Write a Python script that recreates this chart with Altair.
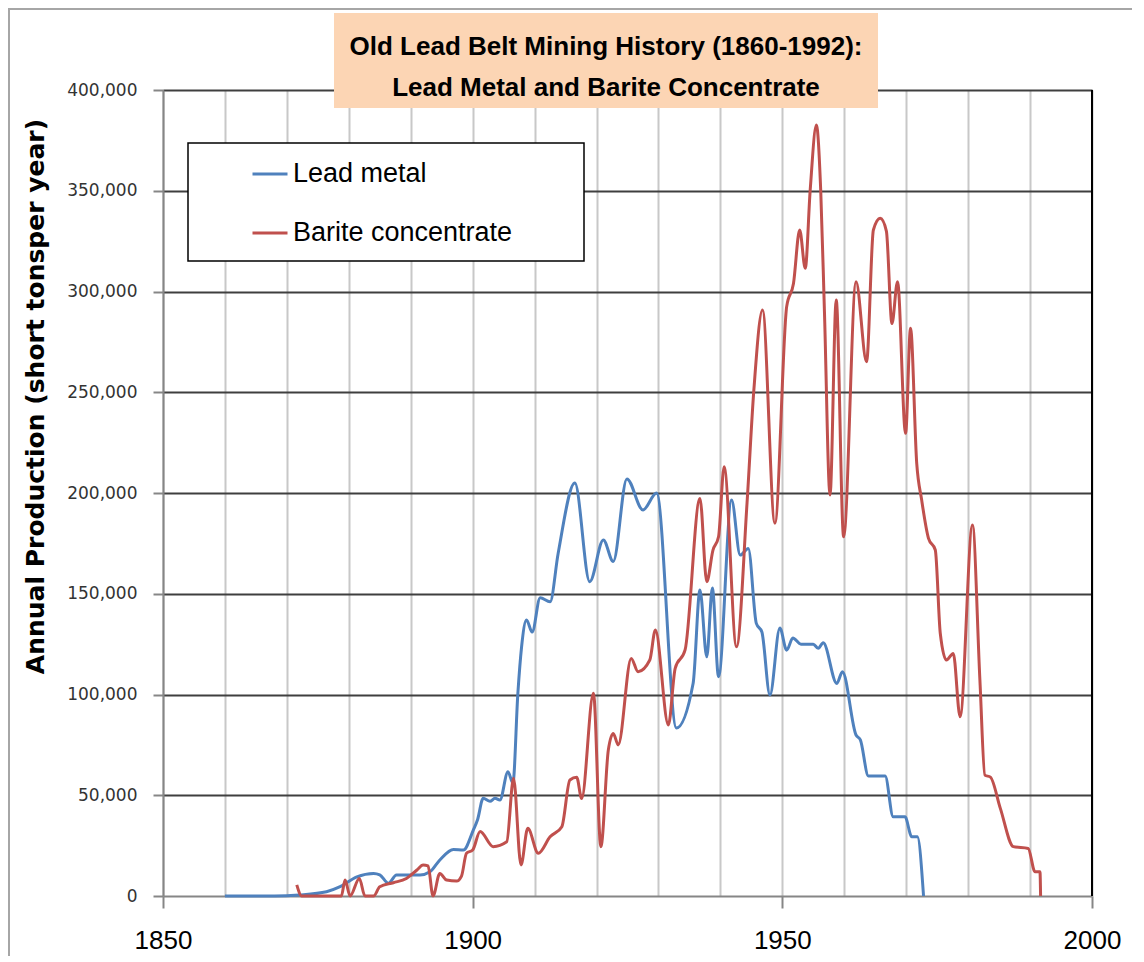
import altair as alt
import pandas as pd

# ---------------- data ----------------
series_names = ["Lead metal", "Barite concentrate"]
series_colors = ["#4F81BD", "#C0504D"]

lead_years = [1860, 1868, 1872, 1876.4, 1878.6, 1881.3, 1884, 1885, 1886.4, 1887.7,
              1891.5, 1893.1, 1894.7, 1896.9, 1898.5, 1900.1, 1900.8, 1901.7, 1902.8, 1903.6,
              1904.4, 1905.7, 1906.5, 1907.3, 1907.9, 1908.7, 1909.6, 1910.9, 1912.5, 1913.8,
              1916.5, 1918.9, 1921.1, 1922.7, 1924.9, 1927.5, 1929.7, 1932.9, 1935.6, 1936.7,
              1937.8, 1938.7, 1939.7, 1941.8, 1943.2, 1944.5, 1945.8, 1946.7, 1948.0, 1949.6,
              1950.7, 1951.7, 1953.0, 1955.0, 1955.8, 1956.6, 1958.8, 1959.7, 1961.9, 1962.6,
              1963.9, 1966.6, 1967.9, 1969.8, 1970.9, 1971.8, 1972.8]
lead_values = [0, 0, 500, 2100, 4600, 9500, 11200, 10500, 6300, 10400,
               10400, 12000, 17900, 23100, 22800, 32700, 38000, 48500, 47000, 48500,
               47600, 61700, 56000, 100700, 123700, 137000, 131000, 148000, 146000, 170000,
               205000, 156000, 176700, 166000, 207000, 191600, 200000, 83400, 105600, 151800,
               118700, 152800, 108800, 196500, 169200, 172500, 135300, 131000, 99700, 133000,
               122000, 128000, 125000, 125000, 122900, 125700, 105500, 111300, 79900, 77500,
               59500, 59500, 39300, 39300, 29400, 29400, 0]

barite_years = [1871.6, 1872.4, 1878.8, 1879.4, 1880.2, 1881.7, 1882.6, 1884, 1885, 1887.2,
                1889.3, 1891, 1892, 1892.8, 1893.6, 1894.7, 1895.8, 1897.4, 1898.2, 1899,
                1900, 1901.2, 1903.3, 1905.5, 1906.6, 1907.8, 1908.9, 1910.6, 1912.5, 1914.4,
                1915.7, 1916.8, 1917.6, 1919.5, 1920.7, 1921.9, 1922.7, 1923.5, 1925.6, 1926.7,
                1928.6, 1929.5, 1931.6, 1932.7, 1934.3, 1936.7, 1937.8, 1938.8, 1939.7, 1940.6,
                1942.6, 1944.3, 1945.4, 1946.8, 1948.8, 1950.7, 1951.8, 1952.8, 1953.7, 1954.5,
                1955.5, 1956.2, 1956.8, 1957.7, 1958.7, 1959.9, 1961.9, 1963.6, 1964.7, 1965.8,
                1966.8, 1967.7, 1968.6, 1969.9, 1970.7, 1971.7, 1972.5, 1973.6, 1974.7, 1975.5,
                1976.5, 1977.6, 1978.7, 1980.7, 1981.9, 1982.7, 1983.6, 1985.2, 1987.3, 1989.7,
                1990.8, 1991.6, 1991.7]
barite_values = [5500, 0, 0, 7900, 0, 8700, 0, 0, 4600, 6600,
                 8700, 12900, 15400, 14900, 0, 11200, 7900, 7400, 9900, 21200,
                 22800, 32000, 24500, 26900, 58400, 15400, 33600, 21200, 29400, 34400,
                 57600, 58900, 48400, 100600, 24500, 72400, 80700, 75000, 117900, 111300,
                 117100, 132000, 84900, 113000, 122100, 197300, 156000, 171700, 178300, 213000,
                 123700, 195000, 251000, 290800, 185000, 292500, 304000, 330500, 311500, 350400,
                 382600, 350000, 290000, 199000, 295800, 178300, 304900, 265100, 330500, 336300,
                 330000, 284100, 304900, 229600, 281700, 214700, 196500, 177500, 171700, 130400,
                 117100, 120400, 89000, 184100, 107200, 60000, 59000, 43500, 24500, 23600,
                 12000, 12000, 0]

x_ticks = list(range(1850, 2001, 10))
y_ticks = list(range(0, 400001, 50000))
title_lines = ["Old Lead Belt Mining History (1860-1992):", "Lead Metal and Barite Concentrate"]
y_title = "Annual Production (short tonsper year)"

# ---------------- tables ----------------
df = pd.concat([
    pd.DataFrame({"series": series_names[0], "year": lead_years, "value": lead_values}),
    pd.DataFrame({"series": series_names[1], "year": barite_years, "value": barite_values}),
], ignore_index=True)
one = pd.DataFrame({"k": [1]})
border_df = pd.DataFrame({"year": [2000]})

x_axis = alt.Axis(
    values=x_ticks, format="d", labelExpr="datum.value % 50 == 0 ? datum.label : ''",
    labelOverlap=False, labelFlush=False,
    grid=True, gridColor="#c8c8c8", gridWidth=2,
    domainColor="#868686", domainWidth=2,
    tickColor="#868686", tickWidth=2, tickSize=12,
    tickOpacity={"condition": {"test": "datum.value % 50 == 0", "value": 1}, "value": 0},
    labelFont="Liberation Sans", labelFontSize=26, labelColor="#000000", labelPadding=19,
    title=None,
)
x_enc = alt.X("year:Q", scale=alt.Scale(domain=[1850, 2000], nice=False, zero=False), axis=x_axis)

y_axis = alt.Axis(
    values=y_ticks, format=",d",
    grid=True, gridColor="#3f3f3f", gridWidth=2,
    gridOpacity={"condition": {"test": "datum.value == 0", "value": 0}, "value": 1},
    domainColor="#868686", domainWidth=2,
    tickColor="#868686", tickWidth=2, tickSize=10,
    labelFont="DejaVu Sans", labelFontSize=17, labelColor="#333333", labelPadding=16,
    title=y_title, titleFont="DejaVu Sans", titleFontSize=25, titleFontWeight="bold",
    titleColor="#000000", titleX=-128, titleY=306, titleAngle=270,
    titleAlign="center", titleBaseline="middle",
)

frame = alt.Chart(one).mark_rect(fill="transparent", stroke="#a6a6a6", strokeWidth=2).encode(
    x=alt.value(-154), x2=alt.value(1100), y=alt.value(-81), y2=alt.value(1000)
)

lines = alt.Chart(df).mark_line(strokeWidth=3, interpolate="monotone").encode(
    x=x_enc,
    y=alt.Y("value:Q", scale=alt.Scale(domain=[0, 400000], nice=False), axis=y_axis),
    color=alt.Color(
        "series:N",
        scale=alt.Scale(domain=series_names, range=series_colors),
        sort=series_names,
        legend=alt.Legend(
            title=None, orient="none", legendX=88, legendY=65,
            symbolType="stroke", symbolSize=1225, symbolStrokeWidth=3,
            labelFont="Liberation Sans", labelFontSize=27, labelColor="#000000",
            labelOffset=4, rowPadding=27, padding=0, labelLimit=400,
        ),
    ),
)

right_border = alt.Chart(border_df).mark_rule(color="#000000", strokeWidth=2).encode(x=x_enc)

legend_box = alt.Chart(one).mark_rect(fill="#ffffff", stroke="#000000", strokeWidth=1.5).encode(
    x=alt.value(25), x2=alt.value(421), y=alt.value(53), y2=alt.value(171)
)

title_box = alt.Chart(one).mark_rect(fill="#FCD5B4").encode(
    x=alt.value(171), x2=alt.value(715), y=alt.value(-77), y2=alt.value(18)
)

title_text = alt.Chart(one).mark_text(
    text=title_lines, font="Liberation Sans", fontSize=26, fontWeight="bold",
    color="#000000", align="center", baseline="middle", lineHeight=41,
).encode(x=alt.value(443), y=alt.value(-43))

chart = alt.layer(frame, lines, right_border, legend_box, title_box, title_text).properties(
    width=929, height=806,
    padding={"left": 155, "top": 82, "right": 40, "bottom": 60},
    autosize="none",
).configure_view(stroke="transparent").configure(background="#ffffff")

chart.save("out.html", embed_options={"renderer": "svg", "actions": False})
